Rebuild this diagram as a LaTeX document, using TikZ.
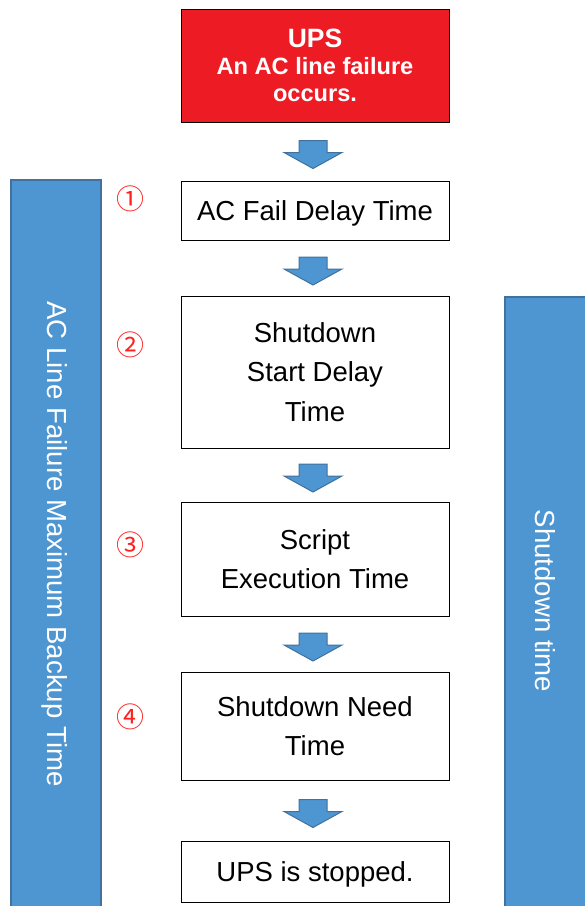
\documentclass[tikz,border=0pt]{standalone}
\usepackage{fontspec}
\setmainfont{Liberation Sans}
\newfontfamily\circfont{Noto Sans CJK JP}
\usetikzlibrary{calc, positioning}
\definecolor{upsred}{HTML}{ED1C24}
\definecolor{barblue}{HTML}{4E96D1}
\definecolor{barline}{HTML}{41719C}
\definecolor{numred}{HTML}{FF2020}
\tikzset{
    x=1pt, y=-1pt,% pixel-like units, measured from the top left
    stepbox/.style = {rectangle, draw=black, line width=1pt, fill=white, minimum width=268pt, align=center, inner sep=0pt,
                      outer sep=0pt, font=\fontsize{27.5}{39.5}\selectfont},
    startbox/.style = {stepbox, fill=upsred, text=white, font=\bfseries\fontsize{23.6}{27}\selectfont},
    bar/.style = {rectangle, draw=barline, line width=1.5pt, fill=barblue, anchor=north west, inner sep=0pt},
    bartext/.style = {text=white, rotate=-90, font=\fontsize{27.6}{30}\selectfont},
    num/.style = {text=numred, font=\circfont\fontsize{28}{30}\selectfont},
    blockarrow/.pic = {\draw[barline, line width=1pt, fill=barblue, line join=miter]
        (-14,-14) -- (-14,-2) -- (-29,-2) -- (0,14) -- (29,-2) -- (14,-2) -- (14,-14) -- cycle;}
}
% block arrow half way between two boxes
\newcommand{\flowarrow}[2]{\path ($(#1.south)!0.5!(#2.north)$) ++(-2,3) pic {blockarrow};}

\begin{document}
\begin{tikzpicture}
    \useasboundingbox (0,0) rectangle (585,906);
    % side bars
    \node[bar, minimum width=90pt, minimum height=740pt] (maxbar) at (10,179) {};
    \node[bar, minimum width=90pt, minimum height=620pt] (downbar) at (504,296) {};
    \node[bartext] (maxtext) at (55,544) {AC Line Failure Maximum Backup Time};
    \node[bartext] (downtext) at (545,601) {Shutdown time};
    % flow
    \node[startbox, minimum height=113pt] (ups) at (315,65.5)
        {{\fontsize{26.5}{29}\selectfont UPS}\\An AC line failure\\occurs.};
    \node[stepbox, minimum height=59pt, below=59pt of ups, text depth=0pt] (fail) {AC Fail Delay Time};
    \node[stepbox, minimum height=152pt, below=56pt of fail] (start) {Shutdown\\Start Delay\\Time};
    \node[stepbox, minimum height=114pt, below=54pt of start] (script) {Script\\Execution Time};
    \node[stepbox, minimum height=108pt, below=56pt of script] (need) {Shutdown Need\\Time};
    \node[stepbox, minimum height=61pt, below=61pt of need, text depth=0pt] (stop) {UPS is stopped.};
    \flowarrow{ups}{fail}
    \flowarrow{fail}{start}
    \flowarrow{start}{script}
    \flowarrow{script}{need}
    \flowarrow{need}{stop}
    % step numbers
    \node[num] (n1) at (130,199) {①};
    \node[num] (n2) at (130,345) {②};
    \node[num] (n3) at (130,545) {③};
    \node[num] (n4) at (130,717) {④};
\end{tikzpicture}
\end{document}
